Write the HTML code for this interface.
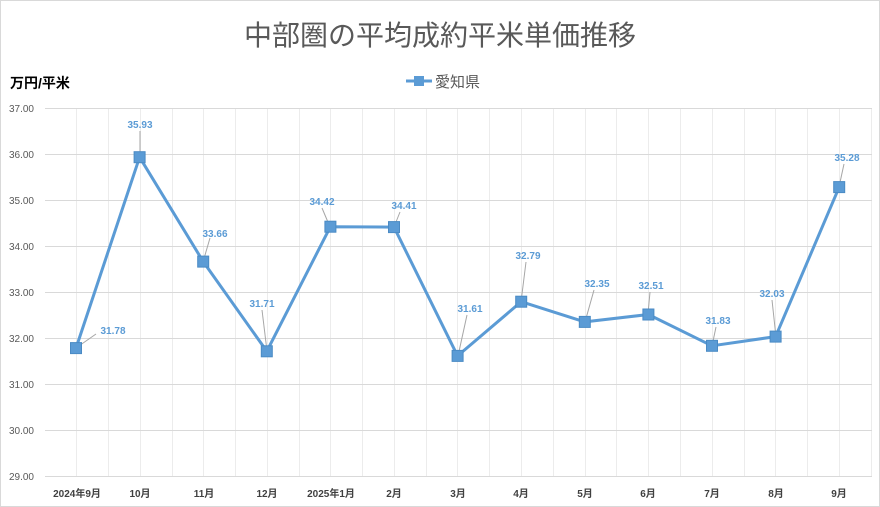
<!DOCTYPE html>
<html><head><meta charset="utf-8"><style>
html,body{margin:0;padding:0;background:#fff;width:880px;height:507px;overflow:hidden}
text{font-family:"Liberation Sans","Noto Sans CJK JP",sans-serif}
</style></head><body>
<svg width="880" height="507" xmlns="http://www.w3.org/2000/svg">
<rect x="0.5" y="0.5" width="879" height="506" fill="#fff" stroke="#d9d9d9"/>
<text x="440" y="45" text-anchor="middle" font-size="28" fill="#595959">中部圏の平均成約平米単価推移</text>
<text x="10" y="88" font-size="14" font-weight="bold" fill="#000">万円/平米</text>
<line x1="406" y1="81" x2="432" y2="81" stroke="#5b9bd5" stroke-width="3"/>
<rect x="414" y="76" width="10" height="10" fill="#5b9bd5"/>
<text x="435" y="87" font-size="15" fill="#595959">愛知県</text>
<g stroke="#ececec" stroke-width="1">
<line x1="76.5" y1="108" x2="76.5" y2="476"/><line x1="108.5" y1="108" x2="108.5" y2="476"/><line x1="140.5" y1="108" x2="140.5" y2="476"/><line x1="172.5" y1="108" x2="172.5" y2="476"/><line x1="203.5" y1="108" x2="203.5" y2="476"/><line x1="235.5" y1="108" x2="235.5" y2="476"/><line x1="267.5" y1="108" x2="267.5" y2="476"/><line x1="299.5" y1="108" x2="299.5" y2="476"/><line x1="330.5" y1="108" x2="330.5" y2="476"/><line x1="362.5" y1="108" x2="362.5" y2="476"/><line x1="394.5" y1="108" x2="394.5" y2="476"/><line x1="426.5" y1="108" x2="426.5" y2="476"/><line x1="457.5" y1="108" x2="457.5" y2="476"/><line x1="489.5" y1="108" x2="489.5" y2="476"/><line x1="521.5" y1="108" x2="521.5" y2="476"/><line x1="553.5" y1="108" x2="553.5" y2="476"/><line x1="585.5" y1="108" x2="585.5" y2="476"/><line x1="616.5" y1="108" x2="616.5" y2="476"/><line x1="648.5" y1="108" x2="648.5" y2="476"/><line x1="680.5" y1="108" x2="680.5" y2="476"/><line x1="712.5" y1="108" x2="712.5" y2="476"/><line x1="744.5" y1="108" x2="744.5" y2="476"/><line x1="775.5" y1="108" x2="775.5" y2="476"/><line x1="807.5" y1="108" x2="807.5" y2="476"/><line x1="839.5" y1="108" x2="839.5" y2="476"/><line x1="871.5" y1="108" x2="871.5" y2="476"/>
</g>
<g stroke="#d9d9d9" stroke-width="1">
<line x1="45" y1="108.5" x2="872" y2="108.5"/><line x1="45" y1="154.5" x2="872" y2="154.5"/><line x1="45" y1="200.5" x2="872" y2="200.5"/><line x1="45" y1="246.5" x2="872" y2="246.5"/><line x1="45" y1="292.5" x2="872" y2="292.5"/><line x1="45" y1="338.5" x2="872" y2="338.5"/><line x1="45" y1="384.5" x2="872" y2="384.5"/><line x1="45" y1="430.5" x2="872" y2="430.5"/><line x1="45" y1="476.5" x2="872" y2="476.5"/>
</g>
<g font-size="10" fill="#595959" text-anchor="end">
<text x="34" y="112">37.00</text><text x="34" y="158">36.00</text><text x="34" y="204">35.00</text><text x="34" y="250">34.00</text><text x="34" y="296">33.00</text><text x="34" y="342">32.00</text><text x="34" y="388">31.00</text><text x="34" y="434">30.00</text><text x="34" y="480">29.00</text>
</g>
<g font-size="10" font-weight="bold" fill="#404040" text-anchor="middle">
<text x="77" y="497">2024年9月</text><text x="140" y="497">10月</text><text x="204" y="497">11月</text><text x="267" y="497">12月</text><text x="331" y="497">2025年1月</text><text x="394" y="497">2月</text><text x="458" y="497">3月</text><text x="521" y="497">4月</text><text x="585" y="497">5月</text><text x="648" y="497">6月</text><text x="712" y="497">7月</text><text x="776" y="497">8月</text><text x="839" y="497">9月</text>
</g>
<g stroke="#a6a6a6" stroke-width="1">
<line x1="76" y1="348" x2="96" y2="334"/><line x1="140" y1="157" x2="140" y2="131"/><line x1="203" y1="262" x2="210" y2="238"/><line x1="267" y1="351" x2="262" y2="310"/><line x1="330" y1="227" x2="322" y2="208"/><line x1="394" y1="227" x2="400" y2="212"/><line x1="458" y1="356" x2="467" y2="315"/><line x1="521" y1="302" x2="526" y2="262"/><line x1="585" y1="322" x2="594" y2="290"/><line x1="648" y1="314" x2="650" y2="292"/><line x1="712" y1="346" x2="716" y2="327"/><line x1="776" y1="337" x2="772" y2="300"/><line x1="839" y1="187" x2="844" y2="164"/>
</g>
<polyline fill="none" stroke="#5b9bd5" stroke-width="3" stroke-linejoin="round" points="76,348.1 139.6,157.2 203.2,261.6 266.8,351.3 330.4,226.7 394,227.1 457.6,355.9 521.2,301.7 584.8,321.9 648.4,314.5 712,345.8 775.6,336.6 839.2,187.1"/>
<g fill="#5b9bd5" stroke="#4a8ac4" stroke-width="1">
<rect x="70.5" y="342.6" width="11" height="11"/><rect x="134.1" y="151.7" width="11" height="11"/><rect x="197.7" y="256.1" width="11" height="11"/><rect x="261.3" y="345.8" width="11" height="11"/><rect x="324.9" y="221.2" width="11" height="11"/><rect x="388.5" y="221.6" width="11" height="11"/><rect x="452.1" y="350.4" width="11" height="11"/><rect x="515.7" y="296.2" width="11" height="11"/><rect x="579.3" y="316.4" width="11" height="11"/><rect x="642.9" y="309" width="11" height="11"/><rect x="706.5" y="340.3" width="11" height="11"/><rect x="770.1" y="331.1" width="11" height="11"/><rect x="833.7" y="181.6" width="11" height="11"/>
</g>
<g font-size="10" font-weight="bold" fill="#5b9bd5" text-anchor="middle">
<text x="113" y="334">31.78</text><text x="140" y="128">35.93</text><text x="215" y="237">33.66</text><text x="262" y="307">31.71</text><text x="322" y="205">34.42</text><text x="404" y="209">34.41</text><text x="470" y="312">31.61</text><text x="528" y="259">32.79</text><text x="597" y="287">32.35</text><text x="651" y="289">32.51</text><text x="718" y="324">31.83</text><text x="772" y="297">32.03</text><text x="847" y="161">35.28</text>
</g>
</svg>
</body></html>
